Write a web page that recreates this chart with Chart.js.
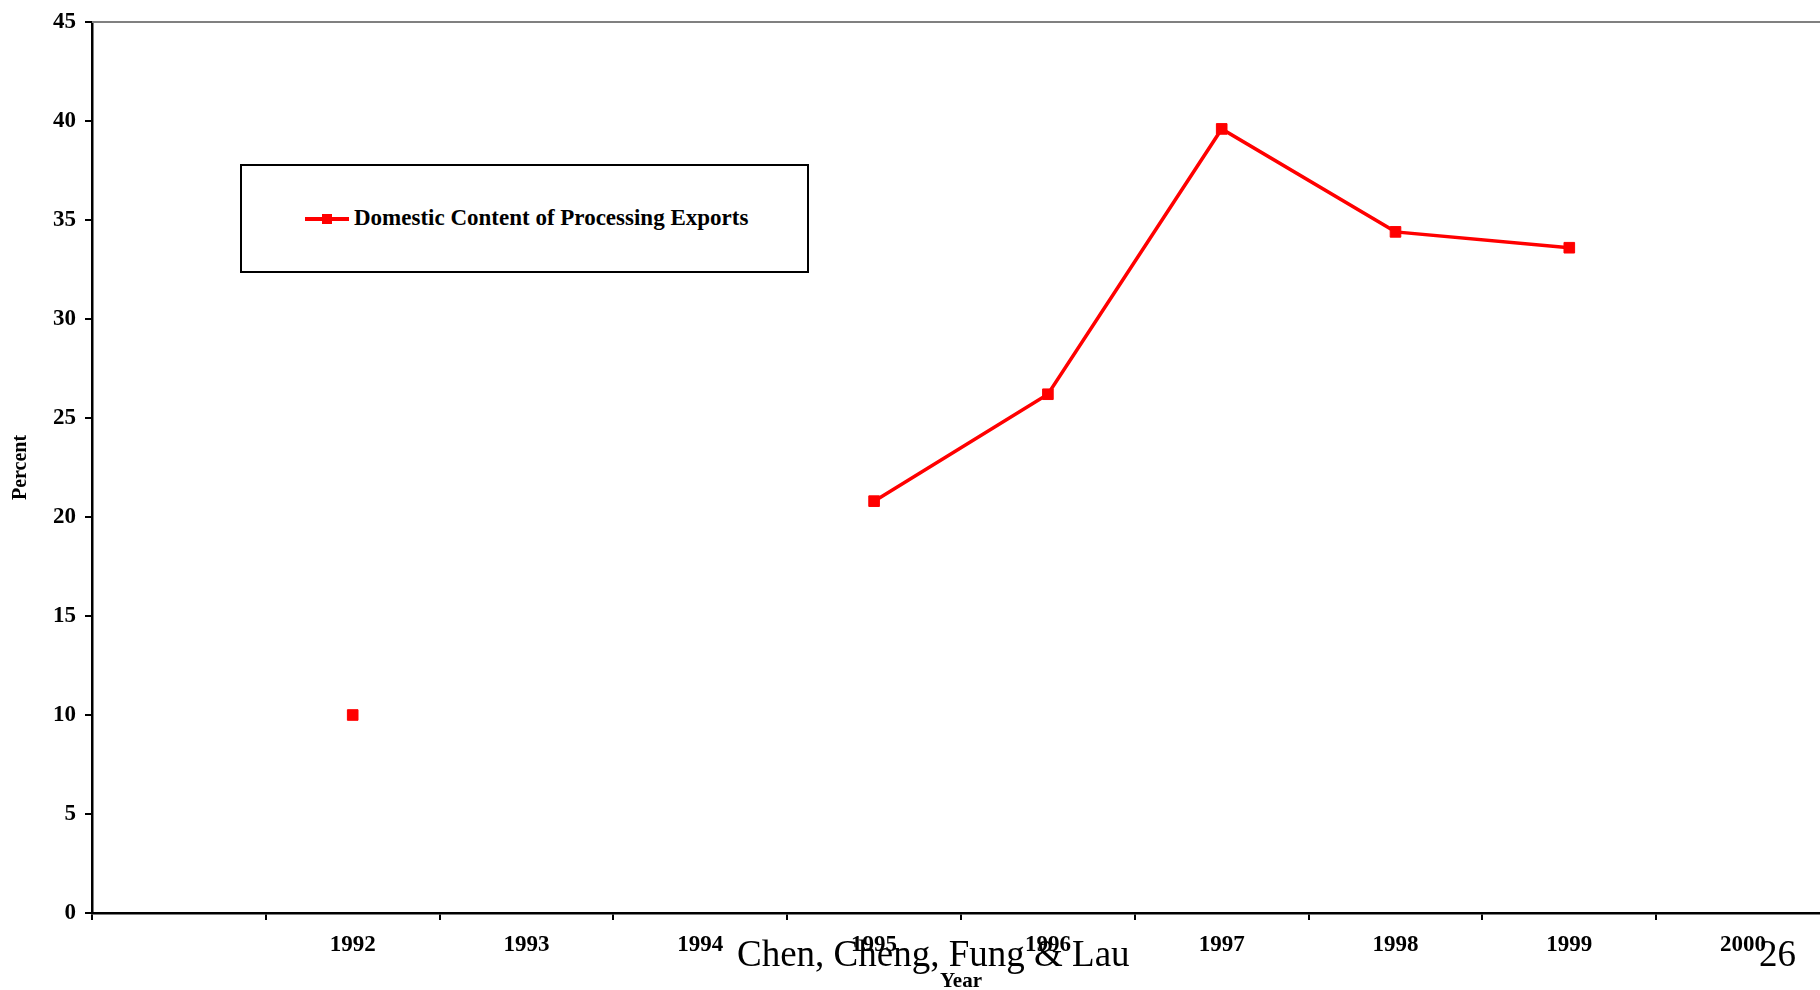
<!DOCTYPE html>
<html>
<head>
<meta charset="utf-8">
<script src="https://cdn.jsdelivr.net/npm/chart.js@4.4.1/dist/chart.umd.min.js"></script>
<style>
  html, body { margin: 0; padding: 0; background: #fff; overflow: hidden; width: 1820px; height: 990px; }
  #wrap { position: relative; width: 1820px; height: 990px; overflow: hidden; }
  #myChart { position: absolute; left: 0; top: 0; }
  #legend {
    position: absolute; left: 240px; top: 164px; width: 565px; height: 105px;
    border: 2px solid #000; background: #fff;
  }
  .leg-line { position: absolute; left: 63px; top: 51px; width: 44px; height: 4px; }
  .leg-mark { position: absolute; left: 80px; top: 48px; width: 10px; height: 10px; }
  .leg-text {
    position: absolute; left: 112px; top: 39px; line-height: 28px;
    font: bold 23px "Liberation Serif", "Times New Roman", serif; color: #000; white-space: nowrap;
  }
  .footer {
    position: absolute; top: 932px; line-height: 37px;
    font: 37px "Liberation Serif", "Times New Roman", serif; color: #000; white-space: nowrap;
  }
</style>
</head>
<body>
<div id="wrap">
  <canvas id="myChart" width="1840" height="990"></canvas>
  <div id="legend"></div>
  <div class="footer" style="left:737px;">Chen, Cheng, Fung &amp; Lau</div>
  <div class="footer" style="left:1759px;">26</div>
</div>
<script>
// data
const years = ['', '1992', '1993', '1994', '1995', '1996', '1997', '1998', '1999', '2000'];
const domesticContent = [null, 10.0, null, null, 20.8, 26.2, 39.6, 34.4, 33.6, null];
const seriesName = 'Domestic Content of Processing Exports';
const yMin = 0, yMax = 45, yStep = 5;

const serif = '"Liberation Serif", "Times New Roman", serif';

// thin grey line along the top of the plot area
const topBorder = {
  id: 'topBorder',
  afterDraw(chart) {
    const ctx = chart.ctx, a = chart.chartArea;
    ctx.save();
    ctx.strokeStyle = '#808080';
    ctx.lineWidth = 2;
    ctx.beginPath();
    ctx.moveTo(a.left, a.top);
    ctx.lineTo(a.right + 20, a.top);
    ctx.stroke();
    ctx.restore();
  }
};

const CHART = document.getElementById('myChart');
const myChart = new Chart(CHART, {
  type: 'line',
  data: {
    labels: years,
    datasets: [{
      label: seriesName,
      data: domesticContent,
      borderColor: '#ff0000',
      backgroundColor: '#ff0000',
      borderWidth: 3.5,
      pointStyle: 'rect',
      pointRadius: 7.5,
      pointBorderWidth: 1,
      pointBackgroundColor: '#ff0000',
      pointBorderColor: '#ff0000',
      spanGaps: false,
      tension: 0
    }]
  },
  options: {
    responsive: false,
    maintainAspectRatio: false,
    animation: false,
    layout: { padding: { left: 11, right: 10, top: 22, bottom: -2 } },
    plugins: {
      legend: { display: false },
      tooltip: { enabled: false }
    },
    scales: {
      x: {
        type: 'category',
        offset: true,
        grid: { offset: true, drawOnChartArea: false, drawTicks: true, tickLength: 7, color: '#000', lineWidth: 2 },
        border: { color: '#000', width: 2.5 },
        ticks: {
          autoSkip: false, maxRotation: 0, padding: 14, color: '#000',
          font: { family: serif, size: 23, weight: 'bold', lineHeight: 1 }
        },
        title: {
          display: true, text: 'Year', color: '#000',
          padding: { top: 0, bottom: 0 },
          font: { family: serif, size: 21, weight: 'bold', lineHeight: 1 }
        }
      },
      y: {
        min: yMin, max: yMax,
        grid: { drawOnChartArea: false, drawTicks: true, tickLength: 7, color: '#000', lineWidth: 2 },
        border: { color: '#000', width: 2.5 },
        ticks: {
          stepSize: yStep, padding: 9, color: '#000',
          font: { family: serif, size: 23, weight: 'bold', lineHeight: 1 }
        },
        title: {
          display: true, text: 'Percent', color: '#000',
          padding: { top: 0, bottom: 13 },
          font: { family: serif, size: 20, weight: 'bold', lineHeight: 1 }
        }
      }
    }
  },
  plugins: [topBorder]
});

// legend box built from the dataset
let output_leg = '';
for (let ds of myChart.data.datasets) {
  output_leg += `
    <div class="leg-line" style="background-color:${ds.borderColor};"></div>
    <div class="leg-mark" style="background-color:${ds.pointBackgroundColor};"></div>
    <span class="leg-text">${ds.label}</span>`;
}
document.querySelector('#legend').innerHTML = output_leg;
</script>
</body>
</html>
